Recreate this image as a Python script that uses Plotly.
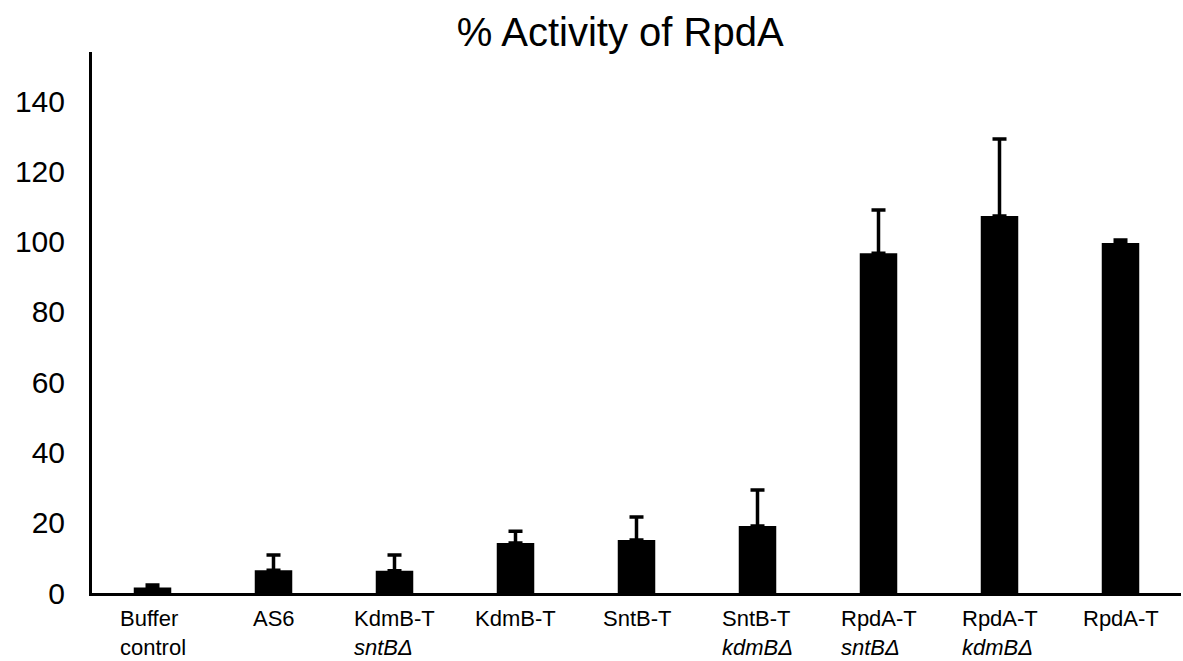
import plotly.graph_objects as go

categories = ["Buffer<br>control", "AS6", "KdmB-T<br><i>sntBΔ</i>", "KdmB-T", "SntB-T",
              "SntB-T<br><i>kdmBΔ</i>", "RpdA-T<br><i>sntBΔ</i>", "RpdA-T<br><i>kdmBΔ</i>", "RpdA-T"]
activity = [1.6, 6.5, 6.3, 14.2, 15.1, 19.1, 96.7, 107.3, 99.6]
error_plus = [0.7, 4.3, 4.5, 3.4, 6.5, 10.2, 12.3, 21.9, 0.9]
y_ticks = [0, 20, 40, 60, 80, 100, 120, 140]

FONT = "Liberation Sans, Arial, Helvetica, sans-serif"
x_idx = list(range(len(categories)))

fig = go.Figure()
fig.add_trace(go.Bar(
    x=x_idx, y=activity, width=0.31,
    marker=dict(color="black", line=dict(width=0)),
    error_y=dict(type="data", array=error_plus, symmetric=False, arrayminus=[0] * len(activity),
                 color="black", thickness=3.5, width=7),
    showlegend=False,
))

for i, lab in enumerate(categories):
    fig.add_annotation(x=i, y=0, xref="x", yref="paper", text=lab, showarrow=False,
                       xanchor="center", yanchor="top", align="left", yshift=-11,
                       font=dict(family=FONT, size=22, color="black"))

fig.update_layout(
    width=1183, height=661,
    margin=dict(l=92, r=2, t=52, b=68),
    paper_bgcolor="white", plot_bgcolor="white",
    title=dict(text="% Activity of RpdA", x=0.485, xref="paper", xanchor="center",
               y=0.952, yref="container", yanchor="middle",
               font=dict(family=FONT, size=40, color="black")),
    xaxis=dict(range=[-0.5, len(categories) - 0.5], showticklabels=False, ticks="",
               showgrid=False, zeroline=False, showline=True, linecolor="black", linewidth=3),
    yaxis=dict(range=[0, 154], tickvals=y_ticks, ticks="", showgrid=False, zeroline=False,
               showline=True, linecolor="black", linewidth=3, ticklabelstandoff=18,
               tickfont=dict(family=FONT, size=30, color="black")),
    bargap=0.69,
)

fig.write_html("out.html")
